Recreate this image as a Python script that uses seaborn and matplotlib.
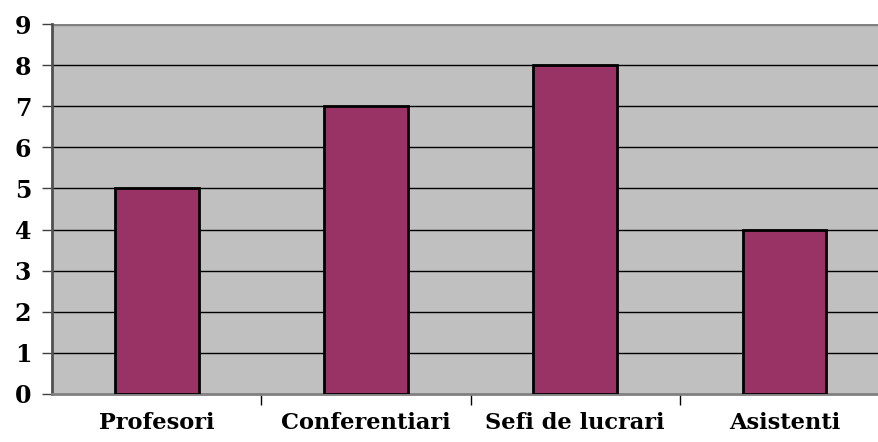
import matplotlib
matplotlib.use("Agg")
import matplotlib.pyplot as plt
import seaborn as sns
import pandas as pd

# Chart data
categories = ["Profesori", "Conferentiari", "Sefi de lucrari", "Asistenti"]
values = [5, 7, 8, 4]

df = pd.DataFrame({"categorie": categories, "valoare": values})

sns.set_style("white")
plt.rcParams['font.family'] = ['DejaVu Serif']

fig = plt.figure(figsize=(8.79, 4.42), dpi=100)
ax = fig.add_axes([0.0592, 0.1086, 0.9523, 0.8371])
ax.set_facecolor('#c0c0c0')

sns.barplot(data=df, x="categorie", y="valoare", color='#993366',
            width=0.40, edgecolor='black', linewidth=2, saturation=1, ax=ax, zorder=3)

ax.set_ylim(0, 9)
ax.set_xlim(-0.5, 3.5)
ax.set_yticks(range(0, 10))
for y in range(1, 9):
    ax.axhline(y, color='black', linewidth=1, zorder=1)
ax.axhline(9, color='#808080', linewidth=2.5, zorder=1)

ax.set_xlabel("")
ax.set_ylabel("")
ax.tick_params(axis='y', left=True, length=7, width=1, color='#404040',
               labelsize=17, labelcolor='black', pad=8)
ax.tick_params(axis='x', which='major', bottom=True, length=0, labelsize=16.2,
               labelcolor='black', pad=13)
ax.set_xticks([0.5, 1.5, 2.5], minor=True)
ax.tick_params(axis='x', which='minor', bottom=True, length=8, width=1, color='black')
for lbl in ax.get_xticklabels() + ax.get_yticklabels():
    lbl.set_fontweight('bold')

for side in ['top', 'right']:
    ax.spines[side].set_visible(False)
ax.spines['left'].set_color('#505050')
ax.spines['left'].set_linewidth(2)
ax.spines['bottom'].set_color('#808080')
ax.spines['bottom'].set_linewidth(2)

fig.savefig("out.png", dpi=100)
